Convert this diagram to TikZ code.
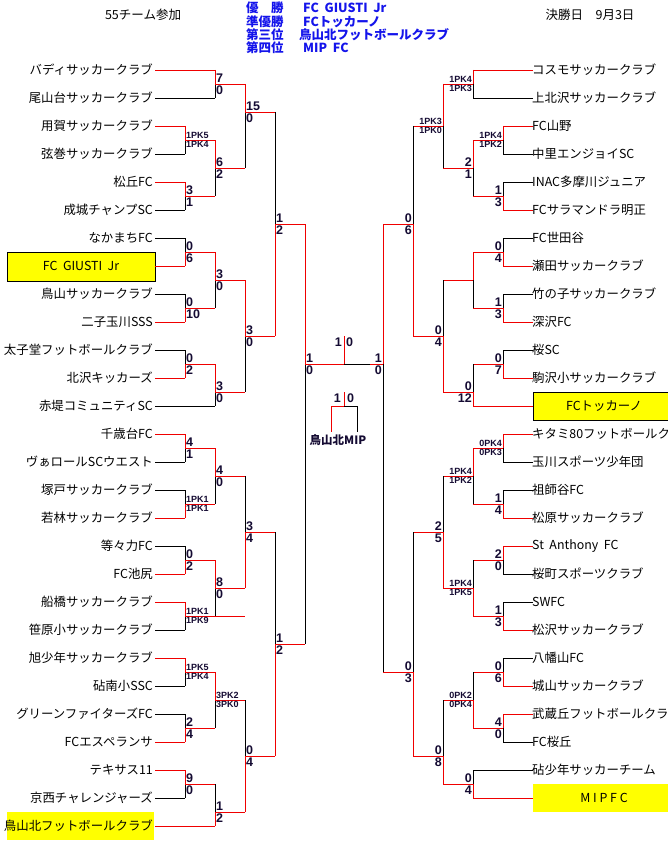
\documentclass[tikz,border=0pt]{standalone}
\usepackage{fontspec}
\setmainfont{Liberation Sans}
\newfontfamily\cjk{Noto Sans CJK JP}
\definecolor{lred}{RGB}{240,0,0}
\definecolor{tblue}{RGB}{20,20,235}
\definecolor{yel}{RGB}{255,255,0}
\definecolor{scc}{RGB}{20,10,50}
\tikzset{
  rl/.style={draw=lred,line width=0.9pt},
  bl/.style={draw=black,line width=0.9pt},
  sc/.style={inner xsep=1pt,inner ysep=1.3pt,text=scc,font=\bfseries\fontsize{12.5}{13}\selectfont},
  tl/.style={inner sep=0pt,anchor=east,font=\cjk\fontsize{12.4}{13}\selectfont},
  tr/.style={inner sep=0pt,anchor=west,font=\cjk\fontsize{12.4}{13}\selectfont},
  hd/.style={inner sep=0pt,anchor=west,text=tblue,font=\cjk\bfseries\fontsize{12.5}{13}\selectfont},
}
% match: x, ytop, ybot, yout, xnext, winner(t/b), top score, bottom score, side(L/R)
\newcommand\mt[9]{%
  \if t#6\relax
    \draw[rl] (#1,#2)--(#1,#4); \draw[bl] (#1,#4)--(#1,#3);
  \else
    \draw[bl] (#1,#2)--(#1,#4); \draw[rl] (#1,#4)--(#1,#3);
  \fi
  \draw[rl] (#1,#4)--(#5,#4);
  \if L#9\relax
    \node[sc,anchor=south west] at (#1,#4) {#7};
    \node[sc,anchor=north west] at (#1,#4) {#8};
  \else
    \node[sc,anchor=south east] at (#1,#4) {#7};
    \node[sc,anchor=north east] at (#1,#4) {#8};
  \fi}
\newcommand\pkk[1]{{\fontsize{9}{9}\selectfont #1}}
\newcommand\tmL[5]{\draw[#4] (155,#2)--(#3,#2); \node[tl] (#1) at (153,#2) {#5};}
\newcommand\tmR[5]{\draw[#4] (533,#2)--(#3,#2); \node[tr] (#1) at (532,#2) {#5};}
\begin{document}
\begin{tikzpicture}[x=1pt,y=-1pt]
\useasboundingbox (0,0) rectangle (668,848);
\fill[white] (0,0) rectangle (668,848);
% header
\node[inner sep=0pt,font=\cjk\fontsize{12.5}{13}\selectfont] (h1) at (143,15) {55チーム参加};
\node[inner sep=0pt,font=\cjk\fontsize{12.5}{13}\selectfont] (h2) at (590,15) {決勝日　9月3日};
\node[hd] (r1) at (246,8) {優　勝};
\node[hd] (r2) at (246,22) {準優勝};
\node[hd] (r3) at (246,35) {第三位};
\node[hd] (r4) at (246,48) {第四位};
\node[hd] (w1) at (303,8) {FC\ \ GIUSTI\ \ Jr};
\node[hd] (w2) at (303,22) {FCトッカーノ};
\node[hd] (w3) at (299,35) {鳥山北フットボールクラブ};
\node[hd] (w4) at (303,48) {MIP\ \ FC};
% yellow boxes
\filldraw[fill=yel,draw=black,line width=0.8pt] (7,252) rectangle (155,281);
\fill[yel] (7,812) rectangle (154,840);
\filldraw[fill=yel,draw=black,line width=0.8pt] (533,392) rectangle (672,420);
\fill[yel] (533,784) rectangle (672,812);
% left teams
\tmL{a1}{70}{215}{rl}{バディサッカークラブ}
\tmL{a2}{98}{215}{bl}{尾山台サッカークラブ}
\tmL{a3}{126}{185}{rl}{用賀サッカークラブ}
\tmL{a4}{154}{185}{bl}{弦巻サッカークラブ}
\tmL{a5}{182}{185}{rl}{松丘FC}
\tmL{a6}{210}{185}{bl}{成城チャンプSC}
\tmL{a7}{238}{185}{bl}{なかまちFC}
\draw[rl] (155,266)--(185,266); \node[inner sep=0pt,font=\cjk\fontsize{12.4}{13}\selectfont] (a8) at (81,266) {FC\ \ GIUSTI\ \ Jr};
\tmL{a9}{294}{185}{bl}{鳥山サッカークラブ}
\tmL{a10}{322}{185}{rl}{二子玉川SSS}
\tmL{a11}{350}{185}{bl}{太子堂フットボールクラブ}
\tmL{a12}{378}{185}{rl}{北沢キッカーズ}
\tmL{a13}{406}{215}{bl}{赤堤コミュニティSC}
\tmL{a14}{434}{185}{rl}{千歳台FC}
\tmL{a15}{462}{185}{bl}{ヴぁロールSCウエスト}
\tmL{a16}{490}{185}{bl}{塚戸サッカークラブ}
\tmL{a17}{518}{185}{rl}{若林サッカークラブ}
\tmL{a18}{546}{185}{bl}{等々力FC}
\tmL{a19}{574}{185}{rl}{FC池尻}
\tmL{a20}{602}{185}{rl}{船橋サッカークラブ}
\tmL{a21}{630}{185}{bl}{笹原小サッカークラブ}
\tmL{a22}{658}{185}{rl}{旭少年サッカークラブ}
\tmL{a23}{686}{185}{bl}{砧南小SSC}
\tmL{a24}{714}{185}{bl}{グリーンファイターズFC}
\tmL{a25}{742}{185}{rl}{FCエスペランサ}
\tmL{a26}{770}{185}{rl}{テキサス11}
\tmL{a27}{798}{185}{bl}{京西チャレンジャーズ}
\tmL{a28}{826}{215}{rl}{鳥山北フットボールクラブ}
% left matches
\mt{185}{126}{154}{140}{215}{t}{\pkk{1PK5}}{\pkk{1PK4}}{L}
\mt{185}{182}{210}{196}{215}{t}{3}{1}{L}
\mt{215}{70}{98}{84}{245}{t}{7}{0}{L}
\mt{215}{140}{196}{168}{245}{t}{6}{2}{L}
\mt{245}{84}{168}{112}{275}{t}{15}{0}{L}
\mt{185}{238}{266}{252}{215}{b}{0}{6}{L}
\mt{185}{294}{322}{308}{215}{b}{0}{10}{L}
\mt{215}{252}{308}{280}{245}{t}{3}{0}{L}
\mt{185}{350}{378}{364}{215}{b}{0}{2}{L}
\mt{215}{364}{406}{392}{245}{t}{3}{0}{L}
\mt{245}{280}{392}{336}{275}{t}{3}{0}{L}
\mt{275}{112}{336}{224}{305}{b}{1}{2}{L}
\mt{185}{434}{462}{448}{215}{t}{4}{1}{L}
\mt{185}{490}{518}{504}{215}{b}{\pkk{1PK1}}{\pkk{1PK1}}{L}
\mt{215}{448}{504}{476}{245}{t}{4}{0}{L}
\mt{185}{546}{574}{560}{215}{b}{0}{2}{L}
\mt{185}{602}{630}{616}{215}{t}{\pkk{1PK1}}{\pkk{1PK9}}{L}
\draw[rl] (215,616)--(245,616);
\mt{215}{560}{616}{588}{245}{t}{8}{0}{L}
\mt{245}{476}{588}{532}{275}{b}{3}{4}{L}
\mt{185}{658}{686}{672}{215}{t}{\pkk{1PK5}}{\pkk{1PK4}}{L}
\mt{185}{714}{742}{728}{215}{b}{2}{4}{L}
\mt{215}{672}{728}{700}{245}{t}{\pkk{3PK2}}{\pkk{3PK0}}{L}
\mt{185}{770}{798}{784}{215}{t}{9}{0}{L}
\mt{215}{784}{826}{812}{245}{b}{1}{2}{L}
\mt{245}{700}{812}{756}{275}{b}{0}{4}{L}
\mt{275}{532}{756}{644}{305}{b}{1}{2}{L}
\mt{305}{224}{644}{364}{344}{t}{1}{0}{L}
% right teams
\tmR{b1}{70}{473}{rl}{コスモサッカークラブ}
\tmR{b2}{98}{473}{bl}{上北沢サッカークラブ}
\tmR{b3}{126}{503}{rl}{FC山野}
\tmR{b4}{154}{503}{bl}{中里エンジョイSC}
\tmR{b5}{182}{503}{bl}{INAC多摩川ジュニア}
\tmR{b6}{210}{503}{rl}{FCサラマンドラ明正}
\tmR{b7}{238}{503}{bl}{FC世田谷}
\tmR{b8}{266}{503}{rl}{瀬田サッカークラブ}
\tmR{b9}{294}{503}{bl}{竹の子サッカークラブ}
\tmR{b10}{322}{503}{rl}{深沢FC}
\tmR{b11}{350}{503}{bl}{桜SC}
\tmR{b12}{378}{503}{rl}{駒沢小サッカークラブ}
\draw[rl] (533,406)--(473,406); \node[inner sep=0pt,font=\cjk\fontsize{12.4}{13}\selectfont] (b13) at (604,406) {FCトッカーノ};
\tmR{b14}{434}{503}{rl}{キタミ80フットボールクラブ}
\tmR{b15}{462}{503}{bl}{玉川スポーツ少年団}
\tmR{b16}{490}{503}{bl}{祖師谷FC}
\tmR{b17}{518}{503}{rl}{松原サッカークラブ}
\tmR{b18}{546}{503}{rl}{St\ \ Anthony\ \ FC}
\tmR{b19}{574}{503}{bl}{桜町スポーツクラブ}
\tmR{b20}{602}{503}{bl}{SWFC}
\tmR{b21}{630}{503}{rl}{松沢サッカークラブ}
\tmR{b22}{658}{503}{bl}{八幡山FC}
\tmR{b23}{686}{503}{rl}{城山サッカークラブ}
\tmR{b24}{714}{503}{rl}{武蔵丘フットボールクラブ}
\tmR{b25}{742}{503}{bl}{FC桜丘}
\tmR{b26}{770}{473}{bl}{砧少年サッカーチーム}
\draw[rl] (533,798)--(473,798); \node[inner sep=0pt,font=\cjk\fontsize{12.4}{13}\selectfont] (b27) at (604,798) {M I P F C};
% right matches
\mt{473}{70}{98}{84}{443}{t}{\pkk{1PK4}}{\pkk{1PK3}}{R}
\mt{503}{126}{154}{140}{473}{t}{\pkk{1PK4}}{\pkk{1PK2}}{R}
\mt{503}{182}{210}{196}{473}{b}{1}{3}{R}
\mt{473}{140}{196}{168}{443}{t}{2}{1}{R}
\mt{443}{84}{168}{126}{413}{t}{\pkk{1PK3}}{\pkk{1PK0}}{R}
\mt{503}{238}{266}{252}{473}{b}{0}{4}{R}
\mt{503}{294}{322}{308}{473}{b}{1}{3}{R}
\mt{473}{252}{308}{280}{443}{t}{}{}{R}
\mt{503}{350}{378}{364}{473}{b}{0}{7}{R}
\mt{473}{364}{406}{392}{443}{b}{0}{12}{R}
\mt{443}{280}{392}{336}{413}{b}{0}{4}{R}
\mt{413}{126}{336}{224}{383}{b}{0}{6}{R}
\mt{503}{434}{462}{448}{473}{t}{\pkk{0PK4}}{\pkk{0PK3}}{R}
\mt{503}{490}{518}{504}{473}{b}{1}{4}{R}
\mt{473}{448}{504}{476}{443}{t}{\pkk{1PK4}}{\pkk{1PK2}}{R}
\mt{503}{546}{574}{560}{473}{t}{2}{0}{R}
\mt{503}{602}{630}{616}{473}{b}{1}{3}{R}
\mt{473}{560}{616}{588}{443}{b}{\pkk{1PK4}}{\pkk{1PK5}}{R}
\mt{443}{476}{588}{532}{413}{b}{2}{5}{R}
\mt{503}{658}{686}{672}{473}{b}{0}{6}{R}
\mt{503}{714}{742}{728}{473}{t}{4}{0}{R}
\mt{473}{672}{728}{700}{443}{b}{\pkk{0PK2}}{\pkk{0PK4}}{R}
\mt{473}{770}{798}{784}{443}{b}{0}{4}{R}
\mt{443}{700}{784}{756}{413}{b}{0}{8}{R}
\mt{413}{532}{756}{672}{383}{b}{0}{3}{R}
\mt{383}{224}{672}{364}{370}{t}{1}{0}{R}
% final
\draw[bl] (344,364)--(370,364);
\draw[rl] (344,364)--(344,336);
\node[sc,anchor=east] (f1) at (343,342) {1};
\node[sc,anchor=west] (f2) at (345,342) {0};
% third place
\draw[rl] (344,392)--(344,406);
\draw[rl] (344,406)--(331,406)--(331,432);
\draw[bl] (344,406)--(357,406)--(357,432);
\node[sc,anchor=east] (t1) at (342,398) {1};
\node[sc,anchor=west] (t2) at (346,398) {0};
\node[inner sep=0pt,text=scc,font=\cjk\bfseries\fontsize{11.5}{12}\selectfont] (t3) at (338,440) {鳥山北MIP};
\end{tikzpicture}
\end{document}
